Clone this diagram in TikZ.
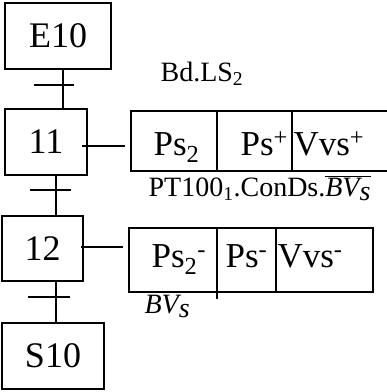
\documentclass[tikz,border=0pt]{standalone}
\usepackage{fontspec}
\setmainfont{Liberation Serif}
\usetikzlibrary{positioning}

\begin{document}
\begin{tikzpicture}[x=1pt,y=-1pt,line width=1.2pt,
    stepbox/.style={draw,inner sep=0pt,minimum height=66pt,font=\fontsize{36}{42}\selectfont},
    actbox/.style={draw,inner sep=0pt},
    cell/.style={inner sep=0pt,anchor=base west,font=\fontsize{35}{40}\selectfont},
    cond/.style={inner sep=0pt,anchor=base west,font=\fontsize{28}{34}\selectfont}]
  \useasboundingbox (0,0) rectangle (387,392);
  % steps
  \node[stepbox,minimum width=106pt] (E10) at (58,36) {E10};
  \node[stepbox,minimum width=82pt] (S11) at (46,142) {11};
  \node[stepbox,minimum width=81pt,minimum height=65pt] (S12) at (42.5,248.5) {12};
  \node[stepbox,minimum width=102pt] (S10) at (53,356) {S10};
  % links and transitions
  \draw ([xshift=5]E10.south) -- ([xshift=5]E10.south |- S11.north);
  \draw ([xshift=10]S11.south) -- ([xshift=10]S11.south |- S12.north);
  \draw ([xshift=13.5]S12.south) -- ([xshift=13.5]S12.south |- S10.north);
  \coordinate (t1) at (63,85);
  \coordinate (t2) at (56,190);
  \coordinate (t3) at (56,297);
  \draw ([xshift=-29]t1) -- ([xshift=11]t1);
  \draw ([xshift=-26]t2) -- ([xshift=15]t2);
  \draw ([xshift=-28]t3) -- ([xshift=14]t3);
  % actions
  \node[actbox,minimum width=261pt,minimum height=60pt] (A11) at (261.5,141) {};
  \node[actbox,minimum width=244pt,minimum height=64pt] (A12) at (251,260) {};
  \draw (A11.north -| 217,0) -- (A11.south -| 217,0);
  \draw (A11.north -| 292,0) -- (A11.south -| 292,0);
  \draw (A12.north -| 217,0) -- ([yshift=-6]A12.south -| 217,0);
  \draw (A12.north -| 276,0) -- (A12.south -| 276,0);
  \draw ([shift={(-6,4)}]S11.east) -- ([shift={(-5,5)}]A11.west);
  \draw ([shift={(-3,-1.5)}]S12.east) -- ([shift={(-5,-13)}]A12.west);
  \node[cell] (p11a) at (153,155) {Ps\textsubscript{2}};
  \node[cell] (p11b) at (240,155) {Ps\textsuperscript{+}};
  \node[cell] (p11c) at (293,155) {Vvs\textsuperscript{+}};
  \node[cell] (p12a) at (151,267) {Ps\textsubscript{2}\textsuperscript{-}};
  \node[cell] (p12b) at (225,267) {Ps\textsuperscript{-}};
  \node[cell] (p12c) at (277,267) {Vvs\textsuperscript{-}};
  % receptivities
  \node[cond] (r1) at (160,81) {Bd.LS\textsubscript{2}};
  \node[cond] (r2) at (148,196) {PT100\textsubscript{1}.ConDs.$\overline{\textit{BV}_{\textit{s}}}$};
  \node[cond] (r3) at (144,313) {$\textit{BV}_{\textit{s}}$};
\end{tikzpicture}
\end{document}
